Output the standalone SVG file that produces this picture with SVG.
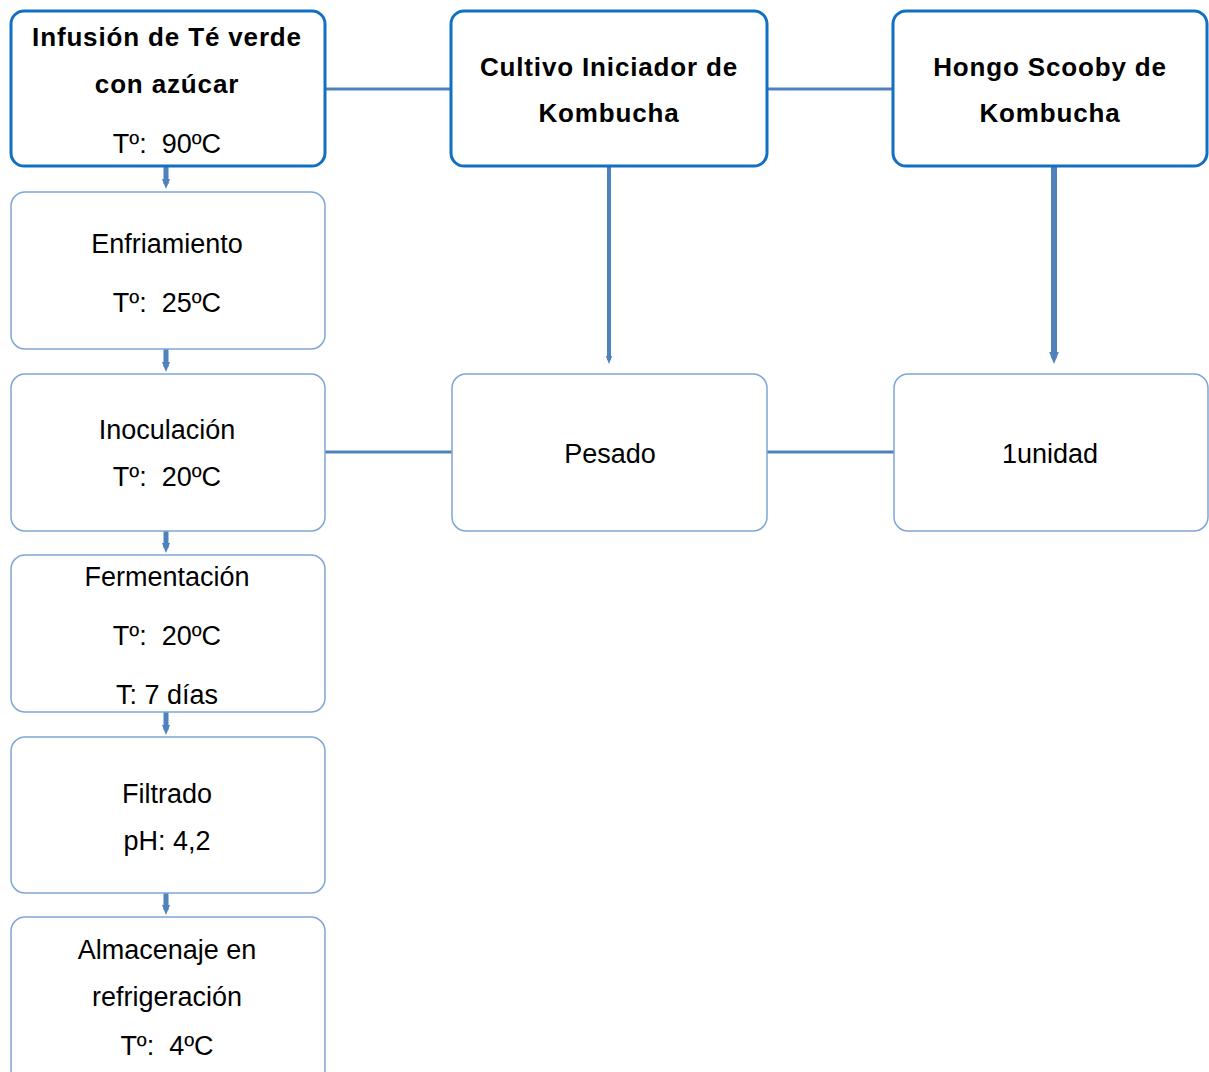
<svg xmlns="http://www.w3.org/2000/svg" width="1209" height="1072" viewBox="0 0 1209 1072">
<style>
.top{fill:#fff;stroke:#1070C4;stroke-width:3}
.box{fill:#fff;stroke:#7EA6D6;stroke-width:1.5}
.b{font-family:"Liberation Sans",Arial,sans-serif;font-weight:bold;font-size:26px;letter-spacing:0.85px;fill:#000;text-anchor:middle}
.r{font-family:"Liberation Sans",Arial,sans-serif;font-size:27px;fill:#000;text-anchor:middle}
.c{stroke:#4F81BD;fill:none}
</style>
<defs>
<marker id="ah" markerWidth="3" markerHeight="3" refX="1.5" refY="1.5" orient="auto" markerUnits="strokeWidth">
<path d="M0,0.3 L3,1.5 L0,2.7 Z" fill="#4F81BD"/>
</marker>
<marker id="ahs" markerWidth="2" markerHeight="2" refX="1" refY="1" orient="auto" markerUnits="strokeWidth">
<path d="M0,0.2 L2,1 L0,1.8 Z" fill="#4F81BD"/>
</marker>
</defs>
<rect width="1209" height="1072" fill="#fff"/>
<g id="connectors">
<line class="c" x1="325" y1="89" x2="451" y2="89" stroke-width="3"/>
<line class="c" x1="767" y1="89" x2="893" y2="89" stroke-width="3"/>
<line class="c" x1="325" y1="452" x2="452" y2="452" stroke-width="3"/>
<line class="c" x1="767" y1="452" x2="894" y2="452" stroke-width="3"/>
<line class="c" x1="609" y1="166" x2="609" y2="360" stroke-width="4" marker-end="url(#ahs)"/>
<line class="c" x1="1054" y1="166" x2="1054" y2="358" stroke-width="6" marker-end="url(#ahs)"/>
<line class="c" x1="166" y1="166" x2="166" y2="184" stroke-width="5" marker-end="url(#ahs)"/>
<line class="c" x1="166" y1="349" x2="166" y2="367" stroke-width="5" marker-end="url(#ahs)"/>
<line class="c" x1="166" y1="531" x2="166" y2="548" stroke-width="5" marker-end="url(#ahs)"/>
<line class="c" x1="166" y1="712" x2="166" y2="730" stroke-width="5" marker-end="url(#ahs)"/>
<line class="c" x1="166" y1="893" x2="166" y2="910" stroke-width="5" marker-end="url(#ahs)"/>
</g>
<g id="infusion">
<rect class="top" x="11" y="11" width="314" height="155" rx="13"/>
<text class="b" x="167" y="46">Infusión de Té verde</text>
<text class="b" x="167" y="93">con azúcar</text>
<text class="r" x="167" y="153">Tº:&#160; 90ºC</text>
</g>
<g id="cultivo">
<rect class="top" x="451" y="11" width="316" height="155" rx="13"/>
<text class="b" x="609" y="76">Cultivo Iniciador de</text>
<text class="b" x="609" y="122">Kombucha</text>
</g>
<g id="hongo">
<rect class="top" x="893" y="11" width="314" height="155" rx="13"/>
<text class="b" x="1050" y="76">Hongo Scooby de</text>
<text class="b" x="1050" y="122">Kombucha</text>
</g>
<g id="enfriamiento">
<rect class="box" x="11" y="192" width="314" height="157" rx="14"/>
<text class="r" x="167" y="253">Enfriamiento</text>
<text class="r" x="167" y="312">Tº:&#160; 25ºC</text>
</g>
<g id="inoculacion">
<rect class="box" x="11" y="374" width="314" height="157" rx="14"/>
<text class="r" x="167" y="439">Inoculación</text>
<text class="r" x="167" y="486">Tº:&#160; 20ºC</text>
</g>
<g id="pesado">
<rect class="box" x="452" y="374" width="315" height="157" rx="14"/>
<text class="r" x="610" y="463">Pesado</text>
</g>
<g id="unidad">
<rect class="box" x="894" y="374" width="314" height="157" rx="14"/>
<text class="r" x="1050" y="463">1unidad</text>
</g>
<g id="fermentacion">
<rect class="box" x="11" y="555" width="314" height="157" rx="14"/>
<text class="r" x="167" y="586">Fermentación</text>
<text class="r" x="167" y="645">Tº:&#160; 20ºC</text>
<text class="r" x="167" y="704">T: 7 días</text>
</g>
<g id="filtrado">
<rect class="box" x="11" y="737" width="314" height="156" rx="14"/>
<text class="r" x="167" y="803">Filtrado</text>
<text class="r" x="167" y="850">pH: 4,2</text>
</g>
<g id="almacenaje">
<rect class="box" x="11" y="917" width="314" height="170" rx="14"/>
<text class="r" x="167" y="959">Almacenaje en</text>
<text class="r" x="167" y="1006">refrigeración</text>
<text class="r" x="167" y="1055">Tº:&#160; 4ºC</text>
</g>
</svg>
